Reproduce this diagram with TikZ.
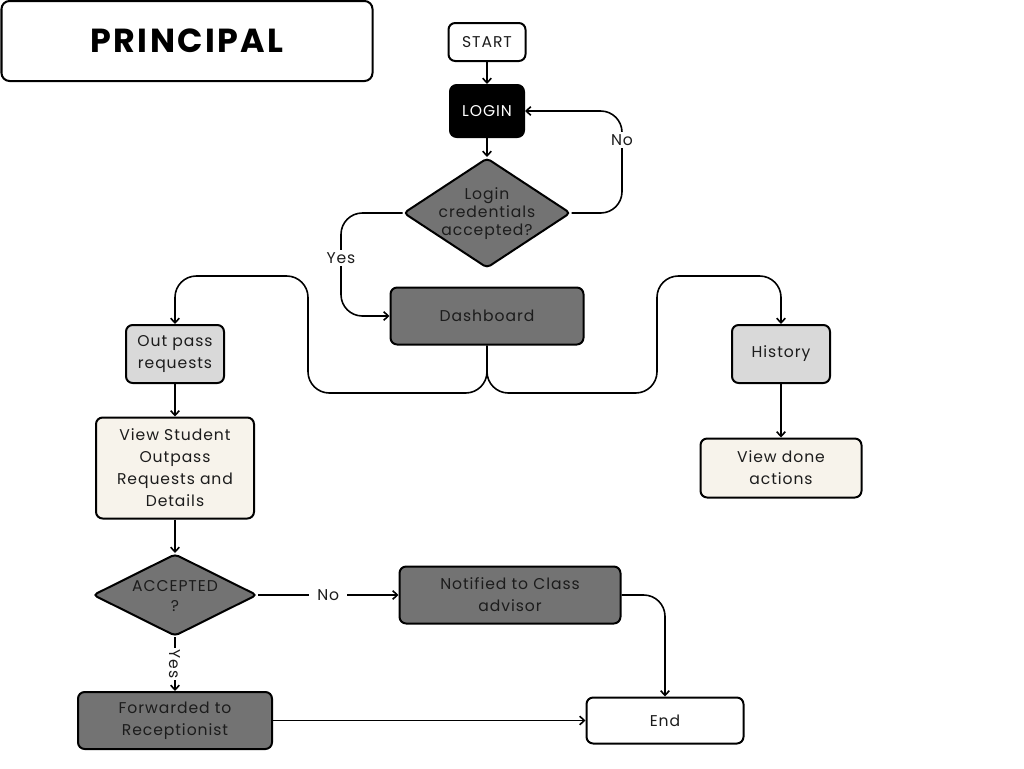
\documentclass[tikz,border=0pt]{standalone}
\usepackage{fontspec}
\setmainfont{Poppins}[LetterSpace=6]
\newfontfamily\titlefont{Poppins}[LetterSpace=7]
\usetikzlibrary{shapes.geometric,arrows.meta}
\definecolor{dgray}{HTML}{737373}
\definecolor{lgray}{HTML}{D9D9D9}
\definecolor{cream}{HTML}{F7F3EB}
\definecolor{ink}{HTML}{1C1C1C}
\tikzset{
  box/.style={draw=black, line width=1.5pt, rounded corners=5pt, align=center,
    inner sep=0pt, font=\fontsize{11.7}{16.5}\selectfont, text=ink},
  darkbox/.style={box, fill=dgray},
  lightbox/.style={box, fill=lgray},
  creambox/.style={box, fill=cream},
  whitebox/.style={box, fill=white},
  dia/.style={diamond, draw=black, line width=1.5pt, fill=dgray, inner sep=0pt,
    rounded corners=3pt, text=ink, font=\fontsize{11.7}{13.5}\selectfont},
  arr/.style={line width=1.2pt, -{Straight Barb[length=3.5pt,width=6.5pt]}},
  lbl/.style={fill=white, inner sep=1.5pt, font=\fontsize{11.7}{13.5}\selectfont, text=ink},
}
\begin{document}
\begin{tikzpicture}[x=0.75pt,y=-0.75pt]
\useasboundingbox (0,0) rectangle (1024,768);
% title
\node[draw=black, line width=1.5pt, rounded corners=6pt, minimum width={371*0.75pt}, minimum height={80*0.75pt},
  font=\titlefont\bfseries\fontsize{25}{30}\selectfont] (title) at (187,41) {PRINCIPAL};
% top flow
\node[whitebox, minimum width={77*0.75pt}, minimum height={38*0.75pt}] (start) at (487,42) {START};
\node[box, fill=black, text=white, minimum width={74*0.75pt}, minimum height={52*0.75pt}] (login) at (487,111) {LOGIN};
\node[dia, minimum width={167*0.75pt}, minimum height={110*0.75pt}] (d1) at (487,213)
  {\smash{\makebox[0pt]{\raisebox{-0.3em}{\begin{tabular}{@{}c@{}}Login\\credentials\\accepted?\end{tabular}}}}};
\node[darkbox, minimum width={193*0.75pt}, minimum height={57*0.75pt}] (dash) at (487,316) {Dashboard};
% left branch
\node[lightbox, minimum width={98*0.75pt}, minimum height={58*0.75pt}] (outp) at (175,354) {Out pass\\requests};
\node[creambox, minimum width={158*0.75pt}, minimum height={101*0.75pt}] (view) at (175,468)
  {View Student\\Outpass\\Requests and\\Details};
\node[dia, minimum width={164*0.75pt}, minimum height={82*0.75pt}] (d2) at (175,595)
  {\smash{\makebox[0pt]{\raisebox{-0.45em}{\begin{tabular}{@{}c@{}}ACCEPTED\\[1.5pt]?\end{tabular}}}}};
\node[darkbox, minimum width={194*0.75pt}, minimum height={57*0.75pt}] (fwd) at (175,720.5) {Forwarded to\\Receptionist};
\node[darkbox, minimum width={221*0.75pt}, minimum height={57*0.75pt}] (notif) at (510,595) {Notified to Class\\advisor};
\node[whitebox, minimum width={157*0.75pt}, minimum height={46*0.75pt}] (endn) at (665,720.5) {End};
% right branch
\node[lightbox, minimum width={98*0.75pt}, minimum height={58*0.75pt}] (hist) at (781,354) {History};
\node[creambox, minimum width={161*0.75pt}, minimum height={59*0.75pt}] (done) at (781,468) {View done\\actions};
% coordinates
\coordinate (noR) at (622,111);
\coordinate (yesL) at (341,316);
\coordinate (lb) at (308,393);
\coordinate (lt) at (308,276);
\coordinate (rb) at (657,393);
\coordinate (rt) at (657,276);
% connectors
\draw[arr] (start) -- (login);
\draw[arr] (login) -- (d1);
\draw[arr, rounded corners=16pt] (d1.east) -| (noR) -- (login.east);
\node[lbl] (nolbl) at (622,140) {No};
\draw[arr, rounded corners=16pt] (d1.west) -| (yesL) -- (dash.west);
\node[lbl] (yeslbl) at (341,258) {Yes};
\draw[arr, rounded corners=16pt] (dash.south) |- (lb) -- (lt) -| (outp.north);
\draw[arr, rounded corners=16pt] (dash.south) |- (rb) -- (rt) -| (hist.north);
\draw[arr] (outp) -- (view);
\draw[arr] (view) -- (d2);
\draw[arr] (d2.east) -- node[lbl, inner xsep=6pt] (nolbl2) {No} (notif.west);
\draw[arr] (d2.south) -- node[lbl, rotate=-90, pos=0.5] (yeslbl2) {Yes} (fwd.north);
\draw[arr] (fwd.east) -- (endn.west);
\draw[arr, rounded corners=16pt] (notif.east) -| (endn.north);
\draw[arr] (hist) -- (done);
\end{tikzpicture}
\end{document}
